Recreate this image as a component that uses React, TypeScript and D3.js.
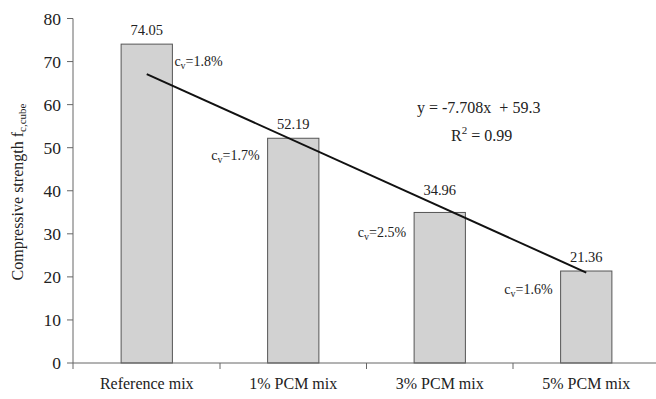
import { useMemo } from "react";
import * as d3 from "d3";

const categories = ["Reference mix", "1% PCM mix", "3% PCM mix", "5% PCM mix"];
const strengths = [74.05, 52.19, 34.96, 21.36];
const cvLabels = ["1.8%", "1.7%", "2.5%", "1.6%"];
// where each c_v note sits, in strength units
const cvLevels = [68.9, 47.1, 29.2, 16.0];
// trendline as drawn, at first and last category centre
const trendEnds = [67.1, 21.0];
const yTicks = [0, 10, 20, 30, 40, 50, 60, 70, 80];

const W = 656;
const H = 399;
const FONT = "'Liberation Serif', 'Times New Roman', serif";
const INK = "#222";

export default function App() {
  const x = useMemo(
    () =>
      d3
        .scaleBand()
        .domain(categories)
        .range([73.5, 659.5])
        .paddingInner(0.65)
        .paddingOuter(0.325),
    [],
  );
  const y = useMemo(() => d3.scaleLinear().domain([0, 80]).range([363, 18.5]), []);

  const bw = x.bandwidth();
  const step = x.step();
  const cx = (c: string) => (x(c) ?? 0) + bw / 2;

  const trend = d3
    .line<[number, number]>()
    .x((d) => d[0])
    .y((d) => y(d[1]))([
    [cx(categories[0]), trendEnds[0]],
    [cx(categories[categories.length - 1]), trendEnds[1]],
  ]);

  // boundaries between categories (tick marks under x axis)
  const boundaries = categories.slice(1).map((c) => cx(c) - step / 2);

  return (
    <svg
      width={W}
      height={H}
      style={{ position: "absolute", left: 0, top: 0, background: "#fff" }}
      fontFamily={FONT}
    >
      {/* bars */}
      {categories.map((c, i) => (
        <rect
          key={c}
          x={x(c)}
          y={y(strengths[i])}
          width={bw}
          height={y(0) - y(strengths[i])}
          fill="#d2d2d2"
          stroke="#555"
          strokeWidth={1}
        />
      ))}

      {/* axes */}
      <line x1={73} x2={73} y1={y(80)} y2={369} stroke="#666" />
      <line x1={73} x2={W} y1={y(0)} y2={y(0)} stroke="#666" />
      {yTicks.map((t) => (
        <g key={t}>
          <line x1={67} x2={73} y1={y(t)} y2={y(t)} stroke="#666" />
          <text x={61} y={y(t) + 6} textAnchor="end" fontSize={17.5} fill={INK}>
            {t}
          </text>
        </g>
      ))}
      {boundaries.map((b, i) => (
        <line key={i} x1={b} x2={b} y1={y(0)} y2={369} stroke="#666" />
      ))}
      {categories.map((c) => (
        <text key={c} x={cx(c)} y={389} textAnchor="middle" fontSize={16} fill={INK}>
          {c}
        </text>
      ))}

      <text
        transform={`translate(23,192) rotate(-90)`}
        textAnchor="middle"
        fontSize={16}
        fill={INK}
      >
        Compressive strength f
        <tspan fontSize={11} dy={3}>c,cube</tspan>
      </text>

      {/* value labels */}
      {categories.map((c, i) => (
        <text
          key={c}
          x={cx(c)}
          y={y(strengths[i]) - (i === 2 ? 17 : 9)}
          textAnchor="middle"
          fontSize={14.5}
          fill={INK}
        >
          {strengths[i].toFixed(2)}
        </text>
      ))}

      {/* c_v notes */}
      {categories.map((c, i) => {
        const right = i === 0;
        const xx = right ? (x(c) ?? 0) + bw + 2 : (x(c) ?? 0) - 8;
        return (
          <text
            key={c}
            x={xx}
            y={y(cvLevels[i])}
            textAnchor={right ? "start" : "end"}
            fontSize={14}
            fill={INK}
          >
            c<tspan fontSize={10} dy={3}>v</tspan>
            <tspan dy={-3}>={cvLabels[i]}</tspan>
          </text>
        );
      })}

      {/* trendline */}
      <path d={trend ?? ""} stroke="#111" strokeWidth={2} fill="none" />
      <text x={417} y={113} fontSize={16} fill={INK} xmlSpace="preserve">
        {"y = -7.708x  + 59.3"}
      </text>
      <text x={451} y={141} fontSize={16} fill={INK}>
        R<tspan fontSize={11} dy={-7}>2</tspan>
        <tspan dy={7}> = 0.99</tspan>
      </text>
    </svg>
  );
}
